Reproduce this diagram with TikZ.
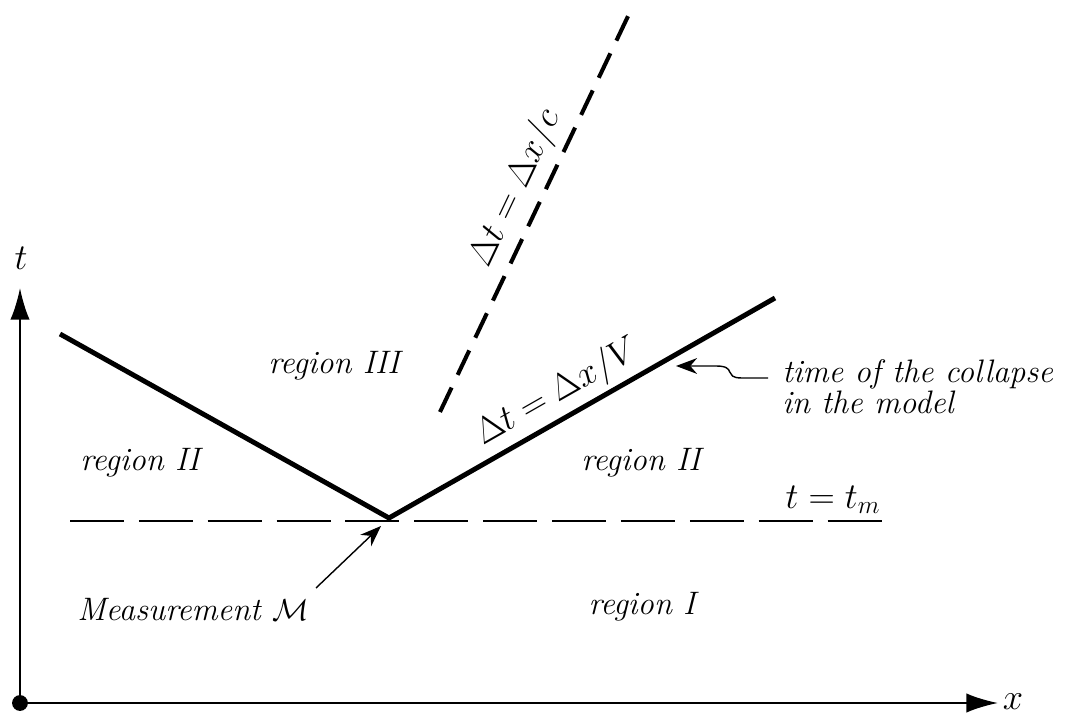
\documentclass[tikz,border=0pt]{standalone}
\usepackage{amsmath, amssymb}
\usetikzlibrary{arrows.meta, positioning, calc}
\tikzset{
  st/axis/.style={line width=1.3pt, -{Latex[length=18pt,width=11pt]}},
  st/cone/.style={line width=2.8pt},
  st/now/.style={line width=1.5pt, dash pattern=on 30.7pt off 8.5pt},
  st/light/.style={line width=2.3pt, dash pattern=on 15.4pt off 8pt},
  st/ptr/.style={line width=0.8pt, -{Stealth[length=12pt,width=9pt]}},
  st/lbl/.style={font=\fontsize{18.5}{14.5}\selectfont\itshape, inner sep=0pt,
    align=left},
  st/eq/.style={font=\fontsize{20}{24}\selectfont, inner sep=0pt}
}

\begin{document}
\begin{tikzpicture}[x=0.02cm, y=-0.02cm]
  \useasboundingbox (0,0) rectangle (1075,715);

  % axes
  \coordinate (O) at (20,703);
  \coordinate (xend) at (998,703);
  \coordinate (tend) at (20,288);
  \draw[st/axis] (O) -- (xend);
  \draw[st/axis] (O) -- (tend);
  \fill (O) circle (4.5pt);
  \node[st/eq] (xlbl) at (1013,702) {$x$};
  \node[st/eq] (tlbl) at (21,258) {$t$};

  % measurement time and light cone
  \coordinate (M) at (389,518);
  \coordinate (L) at (60,334);
  \coordinate (R) at (775,298);
  \coordinate (nowL) at (70,521);
  \coordinate (nowR) at (885,521);
  \coordinate (cbot) at (440,412);
  \coordinate (ctop) at (630,12);
  \draw[st/now] (nowL) -- (nowR);
  \draw[st/cone] (L) -- (M) -- (R);
  \path (M) -- (R) node[st/eq, sloped, above=4pt, pos=0.47] (lblV)
        {$\Delta t = \Delta x/V$};
  \draw[st/light] (cbot) -- (ctop)
        node[st/eq, sloped, above=4pt, pos=0.53] (lblc) {$\Delta t = \Delta x/c$};

  % regions
  \node[st/lbl] (r3)  at (334,366) {region III};
  \node[st/lbl] (r2l) at (140,463) {region II};
  \node[st/lbl] (r2r) at (641,463) {region II};
  \node[st/lbl] (r1)  at (642,607) {region I};
  \node[st/eq]  (tm)  at (833,500) {$t = t_m$};
  \node[st/lbl] (meas) at (193,610) {Measurement $\mathcal{M}$};
  \node[st/lbl, anchor=west] (coll) at (782,387) {time of the collapse\\
        in the model};

  % pointers
  \coordinate (mtail) at (316,588);
  \coordinate (mtip) at (381,526);
  \coordinate (ctail) at (768,378);
  \coordinate (ctip) at (676,366);
  \draw[st/ptr] (mtail) -- (mtip);
  \draw[st/ptr] (ctail) -- (742,378) .. controls (722,378) and (738,366) .. (716,366)
        -- (ctip);
\end{tikzpicture}
\end{document}
